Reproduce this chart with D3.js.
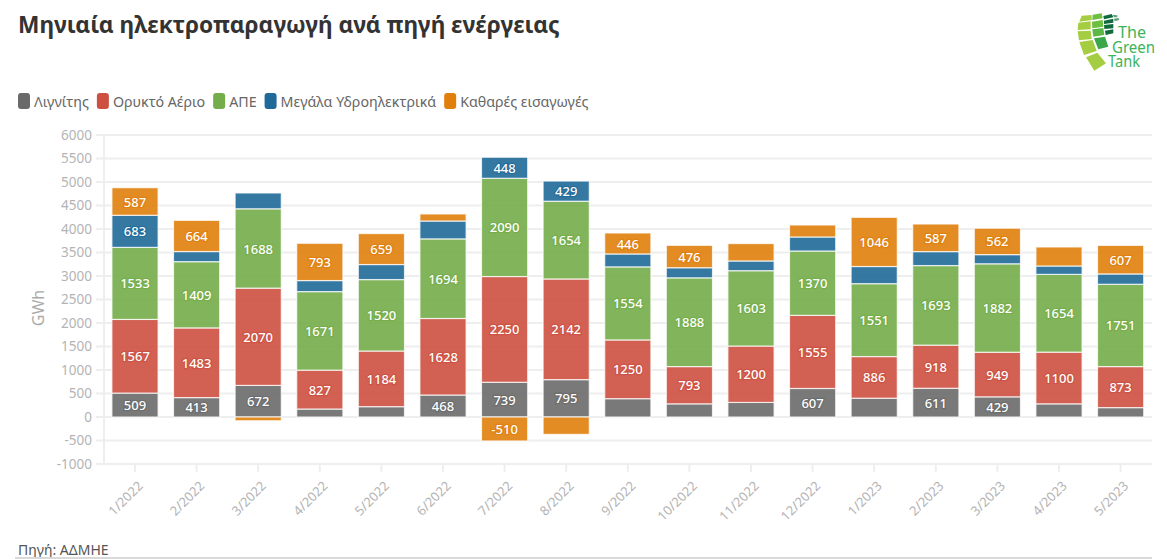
<!DOCTYPE html>
<html><head><meta charset="utf-8">
<script src="https://cdn.jsdelivr.net/npm/d3@7"></script>
<style>
html,body{margin:0;padding:0;background:#fff;overflow:hidden}
text{font-family:"Noto Sans",sans-serif}
</style></head><body>
<svg id="c" width="1167" height="559"></svg>
<script>
const months=["1/2022","2/2022","3/2022","4/2022","5/2022","6/2022","7/2022","8/2022","9/2022","10/2022","11/2022","12/2022","1/2023","2/2023","3/2023","4/2023","5/2023"];
const seriesNames=["Λιγνίτης","Ορυκτό Αέριο","ΑΠΕ","Μεγάλα Υδροηλεκτρικά","Καθαρές εισαγωγές"];
const colors=["#6a6a6a","#cd5040","#74ad49","#1f6a99","#e07f0c"];
const lignite=[509,413,672,170,220,468,739,795,390,280,310,607,400,611,429,280,200];
const gas=[1567,1483,2070,827,1184,1628,2250,2142,1250,793,1200,1555,886,918,949,1100,873];
const res=[1533,1409,1688,1671,1520,1694,2090,1654,1554,1888,1603,1370,1551,1693,1882,1654,1751];
const hydro=[683,215,336,235,320,380,448,429,275,215,207,298,365,297,195,179,220];
const imports=[587,664,-80,793,659,150,-510,-370,446,476,370,255,1046,587,562,404,607];
const yTicks=[-1000,-500,0,500,1000,1500,2000,2500,3000,3500,4000,4500,5000,5500,6000];
const labelMin=405;

const svg=d3.select("#c");
const x=d3.scaleBand().domain(months).range([104.2,1151.4]).paddingInner(0.25).paddingOuter(0.125);
const y=d3.scaleLinear().domain([-1000,6000]).range([464,135]);

const rows=months.map((m,i)=>({m,0:lignite[i],1:gas[i],2:res[i],3:hydro[i],4:imports[i]}));
const stacked=d3.stack().keys([0,1,2,3,4]).offset(d3.stackOffsetDiverging)(rows);

// grid
const gridG=svg.append("g");
gridG.selectAll("line").data(yTicks).join("line")
 .attr("x1",96).attr("x2",1152).attr("y1",d=>y(d)).attr("y2",d=>y(d))
 .attr("stroke","#eeeeee").attr("stroke-width",2);
gridG.append("line").attr("x1",104).attr("x2",104).attr("y1",134).attr("y2",465).attr("stroke","#eeeeee").attr("stroke-width",2);

// axes
const yAxis=svg.append("g").attr("transform","translate(92,0)")
 .call(d3.axisLeft(y).tickValues(yTicks).tickSize(0).tickPadding(0).tickFormat(d=>String(d)));
yAxis.select(".domain").remove();
yAxis.selectAll("text").attr("fill","#b4b4b4").style("font-size","13.5px").style("font-family","'Noto Sans',sans-serif");

const xAxis=svg.append("g").attr("transform","translate(0,464)")
 .call(d3.axisBottom(x).tickSize(8).tickPadding(0));
xAxis.select(".domain").remove();
xAxis.selectAll("line").attr("stroke","#eeeeee").attr("stroke-width",2);
xAxis.selectAll("text").attr("fill","#b4b4b4").style("font-size","13px").style("font-family","'Noto Sans',sans-serif")
 .attr("text-anchor","end").attr("dy",0).attr("dx",0)
 .attr("transform","translate(3,17) rotate(-45)");

svg.append("text").attr("transform","translate(44,308) rotate(-90)").attr("text-anchor","middle")
 .attr("fill","#aaaaaa").style("font-size","16px").text("GWh");

// bars
const barG=svg.append("g").selectAll("g").data(stacked).join("g");
barG.selectAll("rect").data(s=>s.map(d=>({d,k:s.key}))).join("rect")
 .attr("x",o=>x(o.d.data.m)).attr("width",x.bandwidth())
 .attr("y",o=>y(Math.max(o.d[0],o.d[1]))).attr("height",o=>Math.abs(y(o.d[0])-y(o.d[1])))
 .attr("fill",o=>colors[o.k]).attr("fill-opacity",0.9)
 .attr("stroke","#ffffff").attr("stroke-opacity",0.75).attr("stroke-width",1.2);

// value labels
const labG=svg.append("g").selectAll("g").data(stacked).join("g");
labG.selectAll("text").data(s=>s.filter(d=>Math.abs(d[1]-d[0])>=labelMin).map(d=>({d,k:s.key}))).join("text")
 .attr("x",o=>x(o.d.data.m)+x.bandwidth()/2)
 .attr("y",o=>y((o.d[0]+o.d[1])/2)+0.5)
 .attr("dy","0.35em").attr("text-anchor","middle")
 .attr("fill","#ffffff").style("font-size","13px").style("font-weight",500)
 .style("paint-order","stroke").attr("stroke",o=>colors[o.k]).attr("stroke-width",2.5).attr("stroke-opacity",0.8)
 .text(o=>o.d.data[o.k]);

// title
svg.append("text").attr("x",18).attr("y",33).attr("fill","#333333")
 .style("font-size","22.7px").style("font-weight",700).text("Μηνιαία ηλεκτροπαραγωγή ανά πηγή ενέργειας");

// legend
let lx=18;
seriesNames.forEach((n,i)=>{
 svg.append("rect").attr("x",lx).attr("y",93).attr("width",12).attr("height",16).attr("rx",3).attr("fill",colors[i]);
 const t=svg.append("text").attr("x",lx+16).attr("y",107).attr("fill","#666666").style("font-size","14.25px").text(n);
 lx+=16+t.node().getComputedTextLength()+8;
});

// source
svg.append("text").attr("x",18).attr("y",555).attr("fill","#555555").style("font-size","14px").text("Πηγή: ΑΔΜΗΕ");
svg.append("rect").attr("x",15).attr("y",557).attr("width",1137).attr("height",2).attr("fill","#d9d9d9");

// logo (decorative fan)
const logoBlocks=[
 ["#a5cd42","125,47 155,45 155,60 118,65"],
 ["#a5cd42","115,68 152,64 152,88 113,90"],
 ["#a5cd42","113,94 152,92 155,117 117,121"],
 ["#a5cd42","118,126 158,120 170,153 132,165"],
 ["#a5cd42","138,172 172,158 198,190 163,212"],
 ["#6cbf3f","158,44 185,40 188,55 157,60"],
 ["#6cbf3f","156,65 188,60 190,80 157,85"],
 ["#5cb845","157,88 190,84 193,105 160,110"],
 ["#3aa84a","162,115 195,110 205,140 175,148"],
 ["#0f6b3b","190,48 215,42 220,52 192,58"],
 ["#0f6b3b","192,62 220,56 220,68 192,72"],
 ["#0f6b3b","192,75 220,72 220,85 193,87"],
 ["#0f6b3b","195,92 220,88 220,100 197,105"],
 ["#5f9e7c","218,44 232,46 232,52 222,52"],
 ["#5f9e7c","222,56 235,54 238,60 224,64"]
];
const logo=svg.append("g").attr("transform","translate(1040,0) scale(0.3333)");
logo.selectAll("polygon").data(logoBlocks).join("polygon").attr("fill",d=>d[0]).attr("points",d=>d[1]);
[["The",1118,38,28],["Green",1112,53,43],["Tank",1108,67,32]].forEach(a=>{
 svg.append("text").attr("x",a[1]).attr("y",a[2]).attr("fill","#3cb45a").style("font-size","16.5px")
  .attr("textLength",a[3]).attr("lengthAdjust","spacingAndGlyphs").text(a[0]);
});
</script></body></html>
